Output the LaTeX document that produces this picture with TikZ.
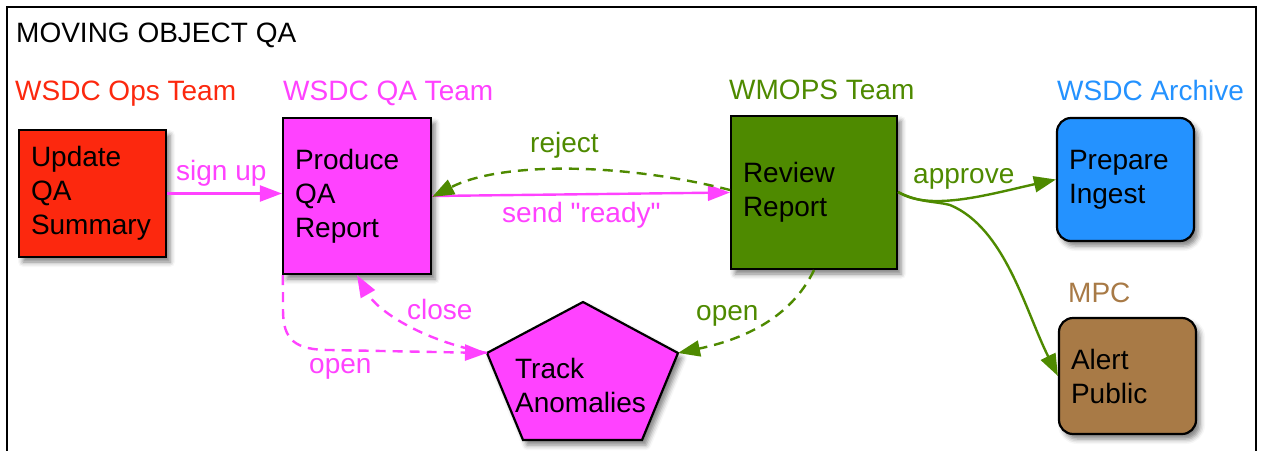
\documentclass[tikz,border=0pt]{standalone}
\usepackage{fontspec}
\setmainfont{Liberation Sans}
\newfontfamily\lsans{Liberation Sans}
\usetikzlibrary{arrows.meta,shadows.blur}
\definecolor{cRed}{RGB}{252,40,14}
\definecolor{cMag}{RGB}{255,66,255}
\definecolor{cGreen}{RGB}{78,138,0}
\definecolor{cBlue}{RGB}{36,146,255}
\definecolor{cBrown}{RGB}{168,122,70}
\tikzset{
  shad/.style={blur shadow={shadow xshift=4pt, shadow yshift=-5pt, shadow blur radius=5pt, shadow opacity=50}},
  procbox/.style={draw=black, line width=2.2pt, inner xsep=12pt, inner ysep=0pt, align=left, shad},
  lab/.style={anchor=base west, inner sep=0pt},
  conn/.style={line width=2.4pt, -{Triangle[length=22pt,width=16pt]}},
  dsh/.style={dash pattern=on 10pt off 7pt},
}
\begin{document}
\begin{tikzpicture}[x=1pt, y=-1pt, font=\lsans\fontsize{28}{34}\selectfont]
\useasboundingbox (0,0) rectangle (1263,450);
\begin{scope}
\clip (0,0) rectangle (1263,450);
\draw[line width=2.5pt] (7,470) -- (7,7) -- (1256,7) -- (1256,470);
\end{scope}

% titles
\node[lab] (title) at (16,42.5) {MOVING OBJECT QA};
\node[lab, text=cRed] (tOps) at (15,100) {WSDC Ops Team};
\node[lab, text=cMag] (tQA) at (283,100) {WSDC QA Team};
\node[lab, text=cGreen] (tWM) at (729,99) {WMOPS Team};
\node[lab, text=cBlue] (tAr) at (1057,100) {WSDC Archive};
\node[lab, text=cBrown] (tMPC) at (1068,302) {MPC};

% boxes
\node[procbox, fill=cRed, text width=123pt, minimum height=127pt] (upd) at (92.5,193.5) {Update\\QA\\Summary};
\node[procbox, fill=cMag, text width=124pt, minimum height=156pt] (prod) at (357,196) {Produce\\QA\\Report};
\node[procbox, fill=cGreen, text width=142pt, minimum height=153pt] (rev) at (814,192.5) {Review\\Report};
\node[procbox, fill=cBlue, rounded corners=14pt, text width=113pt, minimum height=123pt] (prep) at (1125.5,179.5) {Prepare\\Ingest};
\node[procbox, fill=cBrown, rounded corners=14pt, text width=113pt, minimum height=116pt] (alert) at (1127.5,376) {Alert\\Public};

% pentagon
\coordinate (trT) at (583,302);
\coordinate (trR) at (678,353);
\coordinate (trBR) at (642,440);
\coordinate (trBL) at (523,440);
\coordinate (trL) at (487,353);
\draw[fill=cMag, line width=2.2pt, shad] (trT) -- (trR) -- (trBR) -- (trBL) -- (trL) -- cycle;
\node[align=left, inner sep=0pt] (track) at (580.5,385) {Track\\Anomalies};

% connectors
\draw[conn, cMag] (upd.east) -- (upd.east -| prod.west);
\node[lab, text=cMag] (lSign) at (176,180) {sign up};

\draw[conn, cMag] (prod.east) -- (rev.west);
\node[lab, text=cMag] (lSend) at (502,222) {send "ready"};

\coordinate (rejS) at (730,190);
\draw[conn, cGreen, dsh] (rejS) .. controls (620,162) and (500,162) .. ([yshift=-1pt]prod.east);
\node[lab, text=cGreen] (lRej) at (530,152) {reject};

\coordinate (apS) at (898,192);
\coordinate (apB) at (950,205);
\draw[conn, cGreen] (apS) .. controls (930,212) and (990,194) .. (prep.west);
\node[lab, text=cGreen] (lApp) at (913,183) {approve};
\draw[conn, cGreen] (apS) .. controls (920,203) and (935,201) .. (apB) .. controls (1005,228) and (1025,310) .. (alert.west);

\draw[conn, cGreen, dsh] (rev.south) .. controls (790,320) and (740,340) .. (trR);
\node[lab, text=cGreen] (lOpenG) at (696,320) {open};

\draw[conn, cMag, dsh] ([xshift=1pt]prod.south west) -- (283,310) .. controls (283,340) and (295,350) .. (330,350) -- (trL);
\node[lab, text=cMag] (lOpenM) at (309,373) {open};

\draw[conn, cMag, dsh] (trL) .. controls (420,340) and (377,310) .. (prod.south);
\node[lab, text=cMag] (lClose) at (407,319) {close};
\end{tikzpicture}
\end{document}
